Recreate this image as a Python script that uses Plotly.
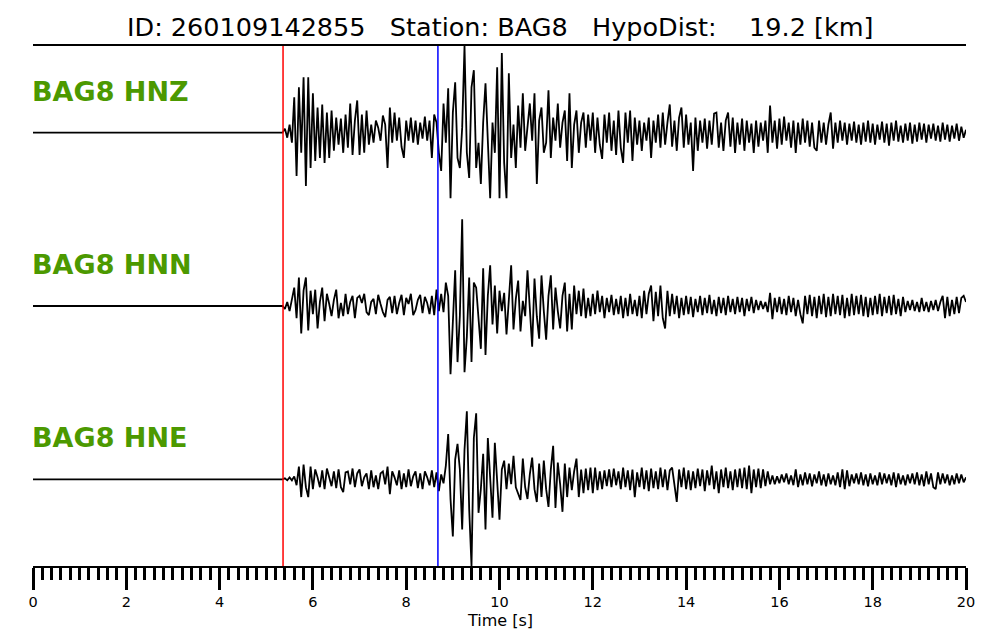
import numpy as np
import plotly.graph_objects as go

# ---------------- data ----------------
title_text = "ID: 260109142855   Station: BAG8   HypoDist:    19.2 [km]"
station = "BAG8"
channels = ["HNZ", "HNN", "HNE"]

sample_interval = 0.05      # s between listed samples
record_start = 5.0          # s, time of first listed sample
quiet_level = 0.0           # flat pre-event trace level (0 .. 5 s)
p_pick = 5.36               # s, red line
s_pick = 8.68               # s, blue line
time_ticks = [0, 2, 4, 6, 8, 10, 12, 14, 16, 18, 20]
minor_tick_step = 0.2

# amplitudes (arbitrary units), one row = 1 s, 5.00 s ... 20.00 s
hnz = [
    0, 0, 0, 0, 0, 0, 0, 0, 4, -5, 8, -10, 35, -43, 45, -20, 55, -53, 55, -35,
    39, -28, 25, -25, 28, -30, 20, -25, 22, -18, 15, -12, 14, -20, 18, -15, 29, -22, 12, 32,
    -22, 18, -20, 22, -12, 8, -10, 12, 5, -8, 17, 8, -35, 25, -10, 20, -8, 15, -14, -25,
    12, -8, 15, -10, 12, -12, 10, -6, 16, -8, 12, -25, 18, 10, -20, -38, 29, -10, 44, -65,
    20, 50, -25, -35, 5, 86, -20, -45, 45, 62, -35, -10, -51, 10, 49, -10, -65, 10, -20, 65,
    -65, 79, -30, -65, 59, -25, 8, -35, 27, -15, 39, -18, 5, 29, -8, 39, -51, 12, 25, -20,
    -10, 42, -25, 15, -8, 29, -15, 10, 22, -28, 39, -35, 8, 22, -20, 10, 20, -15, 18, -8,
    20, -20, 15, -12, -26, 18, -10, 20, -18, 12, -22, 22, -15, -30, 20, -10, 22, -28, 15, -12,
    12, -18, 10, -8, 15, -25, 12, -10, 18, -15, 20, -12, 10, 28, -14, 12, -18, 15, 25, -15,
    18, -12, 10, -38, 15, -18, 12, -10, 14, -16, 12, -12, 19, 20, -15, 10, -18, 12, 20, -14,
    15, -20, 10, -12, 14, -18, 12, -10, 9, -20, 12, -14, 10, -8, 12, -20, 27, -10, 12, -16,
    14, -12, 16, -8, 10, -15, 12, -20, 10, -12, 14, -10, 12, -14, 10, -15, -18, 12, -10, 10,
    -12, 8, 20, -16, 10, -10, 12, -8, 10, -12, 9, -8, 11, -10, 8, -12, 10, -9, 12, -10,
    9, -12, 8, -7, 11, -10, 9, -13, 10, -8, 12, -9, 7, -10, 9, -8, 10, -11, 8, -9,
    10, -7, 9, -10, 8, -6, 9, -8, 7, -9, 10, -7, 8, -9, 7, -6, 9, -8, 6, -5,
    3,
]
hnn = [
    0, 0, 0, 0, 0, 0, 0, 0, -3, 4, -5, 8, 18, -12, 28, -27, 15, 28, -24, 15,
    -8, 16, -22, 4, 18, -15, 12, 2, -10, 6, 16, -12, 3, -10, 12, -8, 4, 10, -12, 8,
    10, 3, 12, -6, -9, 4, 7, -8, 11, 2, -6, -11, 6, 9, -7, 10, -8, 3, 11, -9,
    8, 2, 12, -9, -4, 6, 11, -7, 9, 3, -8, 10, -9, 16, -5, 12, -6, 23, 10, -67,
    -20, 35, -55, -10, 85, -65, -30, 28, -55, 23, 18, -10, -42, 37, -48, 10, 40, -18, 20, -27,
    15, -5, 13, -28, 10, 40, -23, 7, 25, -25, 5, -10, 35, -5, -40, 27, -10, -32, 30, -5,
    -33, 10, 30, -23, 18, -5, -22, 10, 23, -25, 12, -23, 20, -8, 15, -10, 17, -12, 8, -10,
    12, -8, 15, -6, 10, -12, 8, -6, 11, -9, 7, -8, 10, -12, 8, -10, 12, -8, 6, -10,
    10, -12, 15, -8, 12, 20, -15, 14, -10, 20, -12, -22, 15, -10, 12, -8, 10, -12, 8, -9,
    10, -8, 9, -11, 7, -6, 10, -9, 8, -7, 11, -8, 6, -10, 9, -7, 8, -9, 10, -6,
    7, -8, 9, -6, 8, -10, 7, -5, 9, -7, 6, -4, 5, -3, 4, -6, 13, -13, 8, -6,
    9, -8, 7, -9, 10, -6, 8, -10, 6, -8, -17, 10, -8, 11, -10, 9, -12, 10, -8, 12,
    -11, 9, -10, 12, -8, 10, -9, 11, -12, 8, -10, 12, -9, 10, -8, 11, -10, 9, -11, 8,
    -9, 10, -8, 12, -10, 9, -7, 10, -9, 11, -8, 7, -10, 9, -6, 5, -4, 6, -5, 4,
    -6, 8, -5, 4, -6, 5, -4, 6, -5, 4, 10, -12, 9, -10, 6, -8, 9, -7, 8, 10,
    4,
]
hne = [
    0, 0, 0, 0, 0, 0, 0, 0, 1, -1, 2, -1, 3, -6, 13, -18, 15, -8, -18, 13,
    -10, 10, 2, -8, 9, -10, 11, 3, -7, 8, -9, 10, -8, -13, 7, 8, -5, 11, -8, 6,
    10, -7, 2, 6, -10, 9, -8, 4, -10, 6, 8, -5, 13, -15, 8, 2, -6, 9, -10, 6,
    -8, 10, -7, 3, 8, -9, 6, -10, 8, 2, -6, 9, -8, 7, -12, 5, -4, 14, 46, -20,
    -58, 20, 36, 10, -51, 30, 69, -30, -88, 42, 67, -34, -10, 26, -51, 42, -5, -39, 37, -5,
    -41, 10, 19, -10, 16, -5, 24, -8, -15, -21, 21, -8, -20, 5, 22, -10, -23, 16, -18, 19,
    -10, -28, 10, 34, -29, 17, -5, -33, 16, -18, 12, -11, 8, 21, -18, 10, -14, 11, -11, 12,
    -14, 12, -11, 8, -10, 9, -7, 10, -8, 11, -6, 8, -10, 12, -8, 9, -11, 10, -18, 7,
    -8, 12, -10, 9, -12, 11, -9, 8, -10, 12, -8, 10, -11, 9, 12, -7, -23, 10, -8, 12,
    -10, 9, -11, 8, -9, 11, -7, 10, -12, 9, -6, 14, -10, 8, -14, 10, -8, 12, -9, 8,
    -11, 10, -8, 11, -9, 12, -10, 14, -14, 10, -8, 11, -9, 10, -7, 8, -5, 4, -5, 3,
    -4, 5, -3, 6, -5, 4, -6, 10, -8, 5, -6, 7, -5, 6, -7, 5, -4, 8, -6, 5,
    -7, 6, -5, 4, -6, 7, -8, 10, -10, 9, -7, 5, -4, 6, -5, 7, -6, 5, -7, 6,
    -5, 4, -6, 7, -5, 6, -4, 5, -6, 7, -8, 6, -5, 4, -6, 5, -4, 6, -5, 7,
    -6, 5, -7, 8, -5, 6, -8, -10, 7, -5, 6, -4, 5, -6, 4, -5, 6, -4, 5, -3,
    2,
]

# ---------------- figure ----------------
traces = [hnz, hnn, hne]
offsets = [4, 2, 0]          # vertical stacking (1 unit = normalised amplitude)
label_lift = 0.48
green = "#4c9900"
font_family = "DejaVu Sans"

fig = go.Figure()
for ch, vals, off in zip(channels, traces, offsets):
    v = np.asarray(vals, dtype=float)
    v = v / np.abs(v).max()
    t = record_start + np.arange(len(v)) * sample_interval
    x = np.concatenate([[0.0], t])
    y = np.concatenate([[quiet_level], v]) + off
    fig.add_trace(go.Scatter(x=x, y=y, mode="lines",
                             line=dict(color="black", width=1.8),
                             showlegend=False, hoverinfo="skip"))
    fig.add_annotation(x=0, y=off + label_lift, xref="x", yref="y",
                       text=f"<b>{station} {ch}</b>", showarrow=False,
                       xanchor="left", yanchor="middle", xshift=-3,
                       font=dict(family=font_family, size=27, color=green))

for tp, col in [(p_pick, "red"), (s_pick, "blue")]:
    fig.add_shape(type="line", x0=tp, x1=tp, xref="x", y0=0, y1=1, yref="paper",
                  line=dict(color=col, width=1.5), layer="above")

fig.add_annotation(x=0.5, y=1.0365, xref="paper", yref="paper",
                   text=title_text.replace(" ", "\u00a0"), showarrow=False,
                   xanchor="center", yanchor="middle",
                   font=dict(family=font_family, size=25.5, color="black"))

fig.add_annotation(x=0.5, y=-0.104, xref="paper", yref="paper",
                   text="Time [s]", showarrow=False,
                   xanchor="center", yanchor="middle",
                   font=dict(family=font_family, size=16, color="black"))

# page body has an 8 px margin, so the figure is drawn 8 px in from the corner
fig.update_layout(
    width=992, height=632,
    margin=dict(l=25, r=34, t=38, b=74),
    paper_bgcolor="white", plot_bgcolor="white",
    font=dict(family=font_family, color="black"),
    xaxis=dict(range=[0, 20], showgrid=False, zeroline=False,
               showline=True, linecolor="black", linewidth=2, mirror=True,
               ticks="outside", ticklen=22, tickwidth=3, tickcolor="black",
               tickmode="array", tickvals=time_ticks,
               ticktext=[str(v) for v in time_ticks],
               tickfont=dict(size=14.5, color="black"),
               minor=dict(ticks="outside", tickmode="linear", tick0=0,
                          dtick=minor_tick_step, ticklen=12, tickwidth=3,
                          tickcolor="black", showgrid=False)),
    yaxis=dict(range=[-1, 5], visible=False, showgrid=False, zeroline=False),
)

fig.write_html("out.html")
